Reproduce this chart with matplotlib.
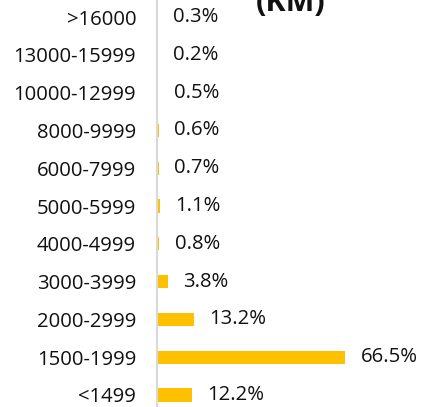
import matplotlib.pyplot as plt

plt.rcParams['font.family'] = ['Open Sans', 'DejaVu Sans']

categories = ['<1499', '1500-1999', '2000-2999', '3000-3999', '4000-4999', '5000-5999',
              '6000-7999', '8000-9999', '10000-12999', '13000-15999', '>16000']
shares = [12.2, 66.5, 13.2, 3.8, 0.8, 1.1, 0.7, 0.6, 0.5, 0.2, 0.3]
title = '(KM)'

W, H = 426, 407
fig = plt.figure(figsize=(W / 100, H / 100), dpi=100)
# axes: left spine at x=157px, slots of ~37.8px, first center at y=17px
slot = 37.8
top_px = 17 - slot / 2
bot_px = top_px + slot * len(categories)
ax = fig.add_axes([157 / W, 1 - bot_px / H, 1 - 157 / W, (bot_px - top_px) / H])

ypos = range(len(categories))
ax.barh(ypos, shares, height=0.35, color='#FFC000')
for y, v in zip(ypos, shares):
    ax.annotate(f'{v}%', xy=(v, y), xytext=(11, 0), textcoords='offset points',
                va='center', ha='left', fontsize=14.6, color='#111111')

ax.set_xlim(0, 95)
ax.set_ylim(-0.5, len(categories) - 0.5)
ax.set_yticks(list(ypos))
ax.set_yticklabels(categories, fontsize=14.6, color='#111111')
ax.tick_params(axis='y', length=0, pad=15)
ax.set_xticks([])
for s in ['top', 'right', 'bottom']:
    ax.spines[s].set_visible(False)
ax.spines['left'].set_color('#d9d9d9')
ax.spines['left'].set_linewidth(1.5)

fig.text(291 / W, 1 - 11 / H, title, ha='center', va='baseline',
         fontsize=22, fontweight='bold', color='#111111')

fig.savefig('out.png', dpi=100)
